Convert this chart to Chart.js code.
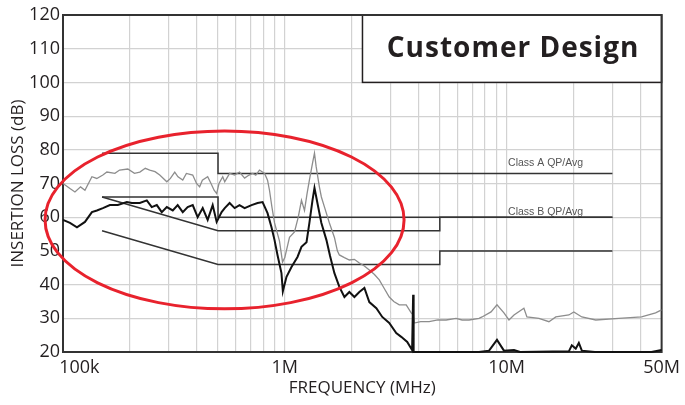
<!DOCTYPE html>
<html>
<head>
<meta charset="utf-8">
<script src="https://cdn.jsdelivr.net/npm/chart.js@4.4.1/dist/chart.umd.min.js"></script>
<style>
  html, body { margin: 0; padding: 0; background: #fff; }
</style>
</head>
<body>
<canvas id="emiChart" width="685" height="405"></canvas>
<script>
// frequency in MHz, insertion loss in dB
const xTickValues = [0.1, 0.2, 0.3, 0.4, 0.5, 0.6, 0.7, 0.8, 0.9, 1, 2, 3, 4, 5, 6, 7, 8, 9, 10, 20, 30, 40, 50];
const xTickLabels = { 0.1: '100k', 1: '1M', 10: '10M', 50: '50M' };

const classAQp = [[0.15, 79], [0.5, 79], [0.5, 73], [30, 73]];
const classAAvg = [[0.15, 66], [0.5, 66], [0.5, 60], [30, 60]];
const classBQp = [[0.15, 66], [0.5, 56], [5, 56], [5, 60], [30, 60]];
const classBAvg = [[0.15, 56], [0.5, 46], [5, 46], [5, 50], [30, 50]];

// upper (grey) trace
const grayTrace = [
  [0.1, 70], [0.1075, 68.5], [0.1132, 67.5], [0.12, 69], [0.1256, 68], [0.135, 72], [0.142, 71.5],
  [0.1513, 72.5], [0.1577, 73.4], [0.1714, 73], [0.18, 74], [0.196, 74.3], [0.21, 73], [0.222, 73.4],
  [0.235, 74.5], [0.246, 74], [0.26, 73.5], [0.273, 72.5], [0.2938, 70.5], [0.305, 71.5], [0.319, 73.4],
  [0.33, 72], [0.3467, 71], [0.36, 73], [0.3845, 72.5], [0.4, 70], [0.413, 69], [0.425, 71], [0.449, 72],
  [0.465, 70], [0.48, 68], [0.493, 67], [0.505, 70], [0.525, 72], [0.536, 70.5], [0.564, 73], [0.594, 72.5],
  [0.625, 73.4], [0.659, 71.6], [0.69, 72.5], [0.716, 73], [0.74, 72.5], [0.769, 74], [0.811, 73],
  [0.836, 71], [0.853, 68], [0.875, 63], [0.899, 58.3], [0.946, 53], [0.977, 46.7], [1.0, 48], [1.05, 54],
  [1.106, 55.6], [1.15, 60], [1.189, 65], [1.227, 62], [1.26, 67], [1.291, 71], [1.333, 76], [1.361, 79],
  [1.385, 75], [1.432, 69], [1.462, 66], [1.51, 63], [1.589, 58.3], [1.674, 54], [1.726, 50], [1.762, 48.8],
  [1.857, 48], [1.955, 47.3], [2.06, 47.5], [2.168, 46.4], [2.285, 45.5], [2.405, 44.3], [2.537, 43],
  [2.667, 41.4], [2.8, 39], [2.958, 36.3], [3.1, 35], [3.281, 34], [3.527, 34], [3.715, 31.6], [3.8, 31],
  [3.83, 28.6], [4.1, 29], [4.477, 29], [4.9, 29.5], [5.337, 29.5], [5.92, 30], [6.3, 29.5], [6.774, 29.5],
  [7.51, 30], [7.75, 30.4], [8.51, 31.9], [9.05, 34], [9.73, 31.6], [10.25, 29.5], [10.8, 31], [11.97, 33],
  [12.35, 30.4], [13.99, 30], [15.52, 29], [16.67, 30.4], [19.09, 31], [20.1, 31.9], [21.84, 30.4],
  [25.24, 29.5], [32.04, 30], [40.6, 30.4], [46.97, 31.6], [50, 32.5]
];

// lower (black) trace
const blackTrace = [
  [0.1, 59.2], [0.1075, 58.3], [0.1156, 57], [0.1256, 58.6], [0.135, 61.5], [0.1422, 62], [0.1513, 62.7],
  [0.1627, 63.6], [0.1767, 63.6], [0.194, 64.5], [0.2044, 64.2], [0.222, 64.2], [0.2387, 65], [0.2513, 63],
  [0.2648, 63.6], [0.2788, 61.5], [0.2938, 63], [0.3126, 62], [0.3289, 63.6], [0.3467, 61.5], [0.3648, 63],
  [0.3845, 63.6], [0.4047, 60], [0.4265, 62.7], [0.449, 59.2], [0.473, 63.6], [0.493, 58.6], [0.519, 61.5],
  [0.536, 62.7], [0.564, 64.2], [0.594, 62.7], [0.625, 63.6], [0.659, 62.7], [0.708, 63.6], [0.754, 64.2],
  [0.794, 64.5], [0.836, 61.2], [0.871, 57], [0.899, 53.2], [0.927, 48.8], [0.966, 43.4], [0.98, 38],
  [1.018, 42.3], [1.072, 45.2], [1.141, 48.2], [1.189, 51.2], [1.253, 52.6], [1.291, 58.3], [1.333, 65],
  [1.361, 68.7], [1.403, 64.2], [1.462, 58.3], [1.541, 53.2], [1.6, 48.5], [1.674, 43.4], [1.762, 39.3],
  [1.857, 36.3], [1.955, 37.8], [2.06, 36.3], [2.168, 37.8], [2.285, 39], [2.405, 34.8], [2.587, 33],
  [2.751, 30.4], [2.958, 28.6], [3.18, 25.6], [3.35, 24.5], [3.565, 23], [3.75, 20.6], [3.79, 37], [3.81, 20],
  [7.5, 20], [8.34, 20.4], [9.05, 23.6], [9.73, 20.4], [10.8, 20.6], [11.5, 20], [19.09, 20.2], [19.68, 22],
  [20.5, 21], [21.17, 22.7], [21.84, 20.4], [25, 20], [45, 20], [50, 20.6]
];

// annotations, in data units
const limitLabels = [['Class A QP/Avg', 15, 76], ['Class B QP/Avg', 15, 61.6]];
const ellipseBounds = { fMin: 0.083, fMax: 3.45, dbMin: 32.8, dbMax: 85.6 };
const designBox = { fMin: 2.24, dbMin: 100, text: 'Customer Design' };

const toXY = arr => arr.map(p => ({ x: p[0], y: p[1] }));
const dark = '#231f20';

const overlay = {
  id: 'overlay',
  beforeDatasetsDraw(chart) {
    const { ctx, chartArea: a, scales: { x, y } } = chart;
    ctx.save();
    // title box
    const bx = x.getPixelForValue(designBox.fMin);
    const by = y.getPixelForValue(designBox.dbMin);
    ctx.fillStyle = '#fff';
    ctx.fillRect(bx, a.top, a.right - bx, by - a.top);
    ctx.strokeStyle = dark;
    ctx.lineWidth = 1.5;
    ctx.strokeRect(bx, a.top, a.right - bx, by - a.top);
    ctx.fillStyle = dark;
    ctx.font = 'bold 28px "Open Sans"';
    ctx.letterSpacing = '1px';
    ctx.textAlign = 'center';
    ctx.textBaseline = 'middle';
    ctx.fillText(designBox.text, (bx + a.right) / 2 + 1, (a.top + by) / 2);
    ctx.letterSpacing = '0px';
    // frame
    ctx.lineWidth = 2;
    ctx.strokeStyle = '#333';
    ctx.strokeRect(a.left, a.top, a.width, a.height);
    // limit labels
    ctx.font = '10.5px "Liberation Sans"';
    ctx.fillStyle = '#555';
    limitLabels.forEach(l => {
      ctx.fillText(l[0], x.getPixelForValue(l[1]), y.getPixelForValue(l[2]));
    });
    ctx.restore();
  },
  afterDatasetsDraw(chart) {
    const { ctx, scales: { x, y } } = chart;
    const l = x.getPixelForValue(ellipseBounds.fMin), r = x.getPixelForValue(ellipseBounds.fMax);
    const t = y.getPixelForValue(ellipseBounds.dbMax), b = y.getPixelForValue(ellipseBounds.dbMin);
    ctx.save();
    ctx.beginPath();
    ctx.ellipse((l + r) / 2, (t + b) / 2, (r - l) / 2, (b - t) / 2, 0, 0, Math.PI * 2);
    ctx.strokeStyle = '#e8222d';
    ctx.lineWidth = 3;
    ctx.stroke();
    ctx.restore();
  }
};

function limitSet(data) {
  return { data: toXY(data), borderColor: '#333', borderWidth: 1.5, pointRadius: 0, order: 3 };
}

new Chart(document.getElementById('emiChart'), {
  type: 'line',
  data: {
    datasets: [
      { data: toXY(blackTrace), borderColor: '#111', borderWidth: 2, pointRadius: 0, order: 0, clip: false },
      { data: toXY(grayTrace), borderColor: '#8d8d8d', borderWidth: 1.3, pointRadius: 0, order: 1 },
      limitSet(classAQp),
      limitSet(classAAvg),
      limitSet(classBQp),
      limitSet(classBAvg)
    ]
  },
  options: {
    responsive: false,
    animation: false,
    devicePixelRatio: 1,
    layout: { padding: { top: 15, right: 22, left: 0, bottom: 0 } },
    plugins: { legend: { display: false }, tooltip: { enabled: false } },
    scales: {
      x: {
        type: 'logarithmic',
        min: 0.1,
        max: 50,
        afterBuildTicks: s => { s.ticks = xTickValues.map(v => ({ value: v })); },
        afterFit: s => { s.height = 53; },
        grid: { color: '#d2d2d2', lineWidth: 1.2, drawTicks: false },
        border: { display: false },
        ticks: {
          autoSkip: false,
          maxRotation: 0,
          padding: 5,
          color: dark,
          font: { family: 'Open Sans', size: 18 },
          callback: v => {
            const lab = xTickLabels[v] || '';
            return v === 0.1 ? '       ' + lab : lab; // nudge first label right like the original
          }
        },
        title: {
          display: true,
          text: 'FREQUENCY (MHz)',
          color: dark,
          font: { family: 'Open Sans', size: 17 },
          padding: { top: 0, bottom: 7 }
        }
      },
      y: {
        min: 20,
        max: 120,
        afterFit: s => { s.width = 63; },
        grid: { color: '#d2d2d2', lineWidth: 1.2, drawTicks: false },
        border: { display: false },
        ticks: {
          stepSize: 10,
          padding: 3,
          color: dark,
          font: { family: 'Open Sans', size: 18 }
        },
        title: {
          display: true,
          text: 'INSERTION LOSS (dB)',
          color: dark,
          font: { family: 'Open Sans', size: 17 },
          padding: { top: 8, bottom: 0 }
        }
      }
    }
  },
  plugins: [overlay]
});
</script>
</body>
</html>
